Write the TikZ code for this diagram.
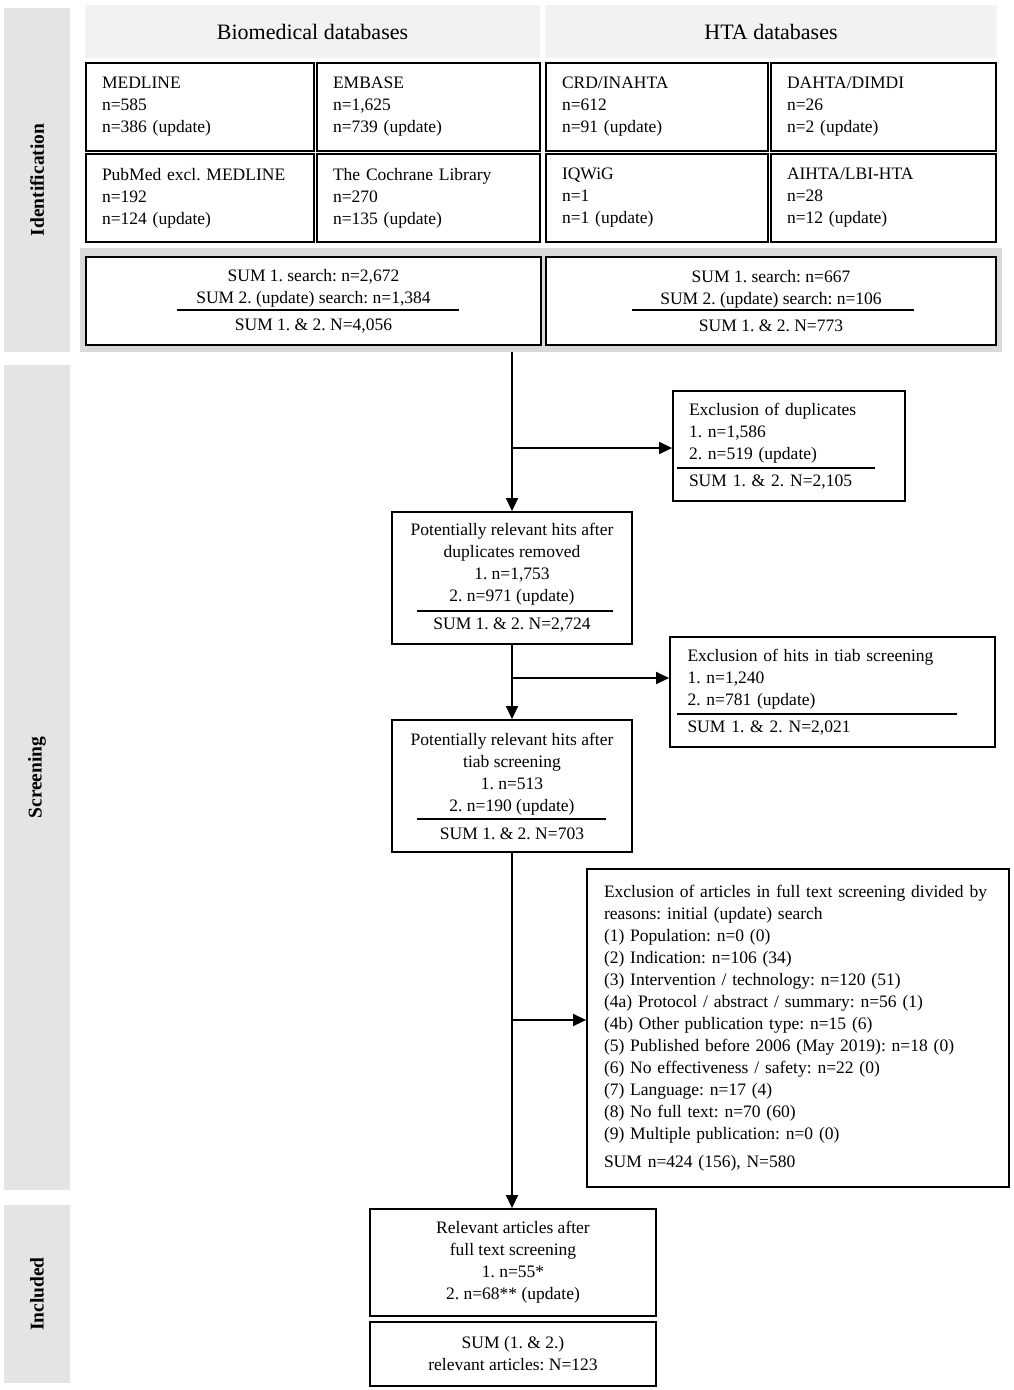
\documentclass[tikz,border=0pt]{standalone}
\usepackage{fontspec}
\setmainfont{Liberation Serif}
\usetikzlibrary{arrows.meta,calc}
\definecolor{bandgray}{HTML}{E4E4E4}
\definecolor{headgray}{HTML}{F2F2F2}
\definecolor{framegray}{HTML}{D9D9D9}
\begin{document}
\begin{tikzpicture}[x=1pt,y=-1pt,
  box/.style={draw=black,line width=1.8pt,fill=white,inner sep=0pt,font=\fontsize{17.5}{22}\selectfont\frenchspacing,align=center},
  lbox/.style={box,align=left,inner xsep=16pt,inner ysep=0pt,text width=#1},
  band/.style={fill=bandgray,inner sep=0pt,font=\fontsize{19.5}{22}\selectfont\bfseries,rotate=90,minimum height=66pt},
  head/.style={fill=headgray,inner sep=0pt,minimum height=53pt,font=\fontsize{22}{26}\selectfont},
  arr/.style={line width=1.5pt,-{Triangle[length=13pt,width=12pt]}},
  seprule/.style={line width=1.2pt}]
\useasboundingbox (0,0) rectangle (1013,1390);
\fill[white] (0,0) rectangle (1013,1390);

% side bands
\node[band,minimum width=344pt] (bandid) at (37,180) {Identification};
\node[band,minimum width=825pt] (bandscr) at (37,777.5) {Screening};
\node[band,minimum width=178pt] (bandinc) at (37,1294) {Included};

% headers
\node[head,minimum width=455pt] (hbio) at (312.5,31.5) {Biomedical databases};
\node[head,minimum width=452pt] (hhta) at (771,31.5) {HTA databases};

% database boxes
\node[lbox=196pt,minimum height=88pt] (medline) at (200,107) {MEDLINE\\n=585\\n=386 (update)};
\node[lbox=191pt,minimum height=88pt] (embase) at (428.5,107) {EMBASE\\n=1,625\\n=739 (update)};
\node[lbox=190pt,minimum height=88pt] (crd) at (657,107) {CRD/INAHTA\\n=612\\n=91 (update)};
\node[lbox=193pt,minimum height=88pt] (dahta) at (883.5,107) {DAHTA/DIMDI\\n=26\\n=2 (update)};
\node[lbox=196pt,minimum height=88pt] (pubmed) at (200,198) {PubMed excl. MEDLINE\\n=192\\n=124 (update)};
\node[lbox=191pt,minimum height=88pt] (cochrane) at (428.5,198) {The Cochrane Library\\n=270\\n=135 (update)};
\node[lbox=190pt,minimum height=88pt] (iqwig) at (657,198) {IQWiG\\n=1\\n=1 (update)};
\node[lbox=193pt,minimum height=88pt] (aihta) at (883.5,198) {AIHTA/LBI-HTA\\n=28\\n=12 (update)};

% sum frame and boxes
\node[fill=framegray,inner sep=0pt,minimum width=922pt,minimum height=104pt] (sumframe) at (541,300) {};
\node[box,minimum width=455pt,minimum height=88pt] (sumL) at (313.5,301) {SUM 1. search: n=2,672\\SUM 2. (update) search: n=1,384\\[5pt]SUM 1. \& 2. N=4,056};
\node[box,minimum width=450pt,minimum height=88pt] (sumR) at (771,301) {SUM 1. search: n=667\\SUM 2. (update) search: n=106\\[5pt]SUM 1. \& 2. N=773};
\draw[seprule] (177,310) -- (459,310);
\draw[seprule] (632,310) -- (914,310);

% screening flow
\node[lbox=200pt,inner xsep=16pt,minimum height=110pt] (dup) at (789,446) {Exclusion of duplicates\\1. n=1,586\\2. n=519 (update)\\[5pt]SUM 1. \& 2. N=2,105};
\draw[seprule] (677,468) -- (875,468);

\node[box,minimum width=240pt,minimum height=132pt] (b2) at (512,578) {Potentially relevant hits after\\duplicates removed\\1. n=1,753\\2. n=971 (update)\\[6pt]SUM 1. \& 2. N=2,724};
\draw[seprule] (417,611) -- (613,611);

\node[lbox=290pt,inner xsep=17.5pt,minimum height=110pt] (tiab) at (832.5,692) {Exclusion of hits in tiab screening\\1. n=1,240\\2. n=781 (update)\\[5pt]SUM 1. \& 2. N=2,021};
\draw[seprule] (677,714) -- (957,714);

\node[box,minimum width=240pt,minimum height=132pt] (b3) at (512,786) {Potentially relevant hits after\\tiab screening\\1. n=513\\2. n=190 (update)\\[6pt]SUM 1. \& 2. N=703};
\draw[seprule] (417,819) -- (606,819);

\node[lbox=388pt,inner xsep=17pt,minimum height=318pt] (full) at (798,1028) {\mbox{Exclusion of articles in full text screening divided by}\\reasons: initial (update) search\\(1) Population: n=0 (0)\\(2) Indication: n=106 (34)\\(3) Intervention / technology: n=120 (51)\\(4a) Protocol / abstract / summary: n=56 (1)\\(4b) Other publication type: n=15 (6)\\(5) Published before 2006 (May 2019): n=18 (0)\\(6) No effectiveness / safety: n=22 (0)\\(7) Language: n=17 (4)\\(8) No full text: n=70 (60)\\(9) Multiple publication: n=0 (0)\\[6pt]SUM n=424 (156), N=580\\[8pt]};

\node[box,minimum width=286pt,minimum height=107pt] (b4) at (513,1262.5) {Relevant articles after\\full text screening\\1. n=55*\\2. n=68** (update)};
\node[box,minimum width=286pt,minimum height=64pt] (b5) at (513,1354) {SUM (1. \& 2.)\\relevant articles: N=123};

% connectors
\coordinate (j1) at (512,448);
\coordinate (j2) at (512,678);
\coordinate (j3) at (512,1020);
\draw[arr] (b2.north |- sumframe.south) -- (b2.north);
\draw[arr] (j1) -- (j1 -| dup.west);
\draw[arr] (b2.south) -- (b3.north);
\draw[arr] (j2) -- (j2 -| tiab.west);
\draw[arr] (b3.south) -- (b3.south |- b4.north);
\draw[arr] (j3) -- (j3 -| full.west);
\end{tikzpicture}
\end{document}
